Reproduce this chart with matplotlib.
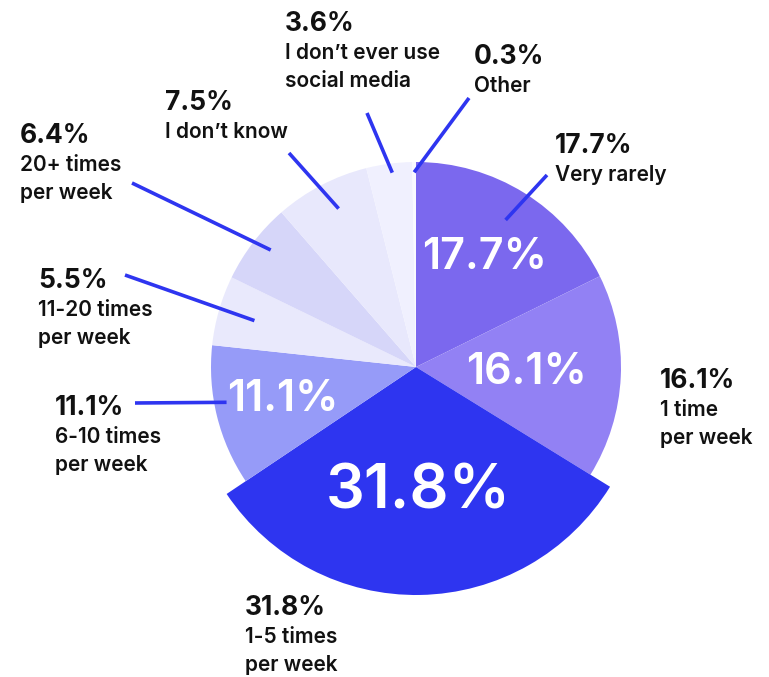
import numpy as np
from matplotlib import pyplot as plt

plt.rcParams["font.family"] = ["Inter", "DejaVu Sans"]

# Survey answers, clockwise from 12 o'clock
categories = ["Very rarely", "1 time\nper week", "1-5 times\nper week", "6-10 times\nper week",
              "11-20 times\nper week", "20+ times\nper week", "I don\u2019t know",
              "I don\u2019t ever use\nsocial media", "Other"]
shares = [17.7, 16.1, 31.8, 11.1, 5.5, 6.4, 7.5, 3.6, 0.3]
sliceColors = ["#7b68ee", "#9281f4", "#2e35f0", "#969bf8", "#e9e9fc",
               "#d6d6f9", "#e8e8fc", "#f0f0fe", "#f9f9ff"]

# Figure is laid out in pixel units (origin bottom-left)
W, H = 769, 677
cx, cy = 416, H - 367
radius = 205
bigRadius = 228

fig = plt.figure(figsize=(W / 100, H / 100), dpi=100)
ax = fig.add_axes([0, 0, 1, 1])

wedges, _ = ax.pie(shares, colors=sliceColors, startangle=90, counterclock=False,
                   center=(cx, cy), radius=radius, frame=True,
                   wedgeprops=dict(linewidth=0))
# the 1-5 times slice sticks out past the rest
wedges[2].set_radius(bigRadius)
ax.set_xlim(0, W)
ax.set_ylim(0, H)
ax.set_aspect("equal")
ax.axis("off")

# mid angle of every slice (degrees, counter-clockwise from +x)
cum = np.cumsum([0] + shares)
midAngles = [90 - 360 * (cum[i] + shares[i] / 2) / 100 for i in range(len(shares))]

# big white numbers inside the larger slices: (slice index, distance as fraction of radius, font size)
insideLabels = [(0, 0.63, 31), (1, 0.54, 31), (2, 0.61, 44), (3, 0.67, 31)]
for idx, frac, size in insideLabels:
    a = np.radians(midAngles[idx])
    ax.text(cx + frac * radius * np.cos(a), cy + frac * radius * np.sin(a),
            f"{shares[idx]}%", color="white", fontsize=size, fontweight="semibold",
            ha="center", va="center")

# outside labels: (slice index, text left x, text top y in px from top)
outsideLabels = [(0, 555, 133), (1, 660, 368), (2, 245, 595), (3, 55, 395),
                 (4, 38, 268), (5, 20, 123), (6, 165, 90), (7, 285, 11), (8, 474, 44)]
for idx, lx, ty in outsideLabels:
    ax.text(lx, H - ty, f"{shares[idx]}%", color="#111111", fontsize=19,
            fontweight="bold", ha="left", va="top")
    ax.text(lx, H - ty - 32, categories[idx], color="#111111", fontsize=15,
            fontweight="semibold", ha="left", va="top", linespacing=1.5)

# leader lines: (slice index, angle shift off the slice middle, fraction of radius at inner end,
# outer end x, outer end y from top)
leaders = [(0, -0.5, 0.84, 547, 175), (3, 3.3, 0.94, 135, 403), (4, 0.0, 0.82, 125, 275),
           (5, 1.4, 0.91, 132, 183), (6, 1.5, 0.86, 289, 153), (7, 0.6, 0.955, 367, 113),
           (8, 0.0, 0.95, 469, 98)]
for idx, shift, frac, ox, oy in leaders:
    a = np.radians(midAngles[idx] - shift)
    ix, iy = cx + frac * radius * np.cos(a), cy + frac * radius * np.sin(a)
    ax.plot([ox, ix], [H - oy, iy], color="#2e35f0", linewidth=2.6, solid_capstyle="butt")

fig.savefig("out.png", dpi=100, facecolor="white")
